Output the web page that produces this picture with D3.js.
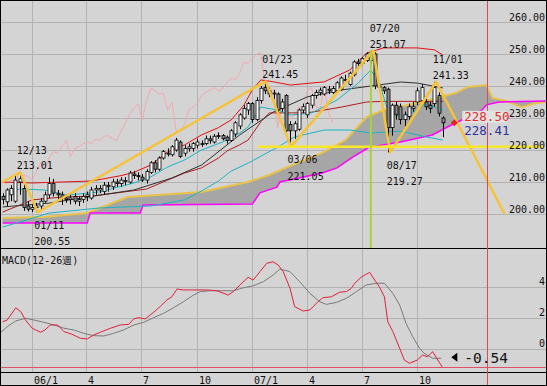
<!DOCTYPE html>
<html>
<head>
<meta charset="utf-8">
<script src="https://cdn.jsdelivr.net/npm/d3@7"></script>
<style>
  body { margin: 0; background: #fff; }
  svg { display: block; }
  text { font-family: "DejaVu Sans Mono", monospace; }
</style>
</head>
<body>
<svg width="547" height="386"></svg>
<script>
// weekly candles, first week starts 2005-11-14
const weekStart = new Date(2005, 10, 14);
const opens  = [205.5,203.8,206,204,210,208,202.5,201.5,202,202.5,204,206,209.5,206.5,206,205,204.5,205.5,204,204.5,205.5,205,207.5,207.5,207,209,208.5,210,209.5,210.5,210,212.5,212,211.5,210.6,213,216,214,217.5,219,218.5,220,222.5,219,220.5,220.5,221.5,222,222,223.5,222.5,224.3,224.5,224,223,225,227.5,230,232.5,234.5,229.5,235.5,239.5,238.5,237.5,237.5,233,237,228,226,226.5,232.5,231,234,237,238,237.5,239,238,238.5,239,242,240.5,243.5,247.5,247,248,248,250,240,239.5,239,227,234,233.5,229.5,230.5,233,235,235.5,235,234,234.5,237,230];
const highs  = [206.5,208,209,212,213.01,210,204,203,203.5,205,207,211.5,211,207.5,207,206,206,206.5,205.5,206.5,207,208.5,209,209,210,210,211,211,211.5,211.5,213.5,213.5,213,212.5,214,216.5,216.8,218,220,220.5,221.5,223.8,223,221.5,222,222.5,223.5,223,224.5,224.5,225,225.5,225,224.5,226.5,229,231.5,234,235,235,236.5,240,241.45,239.5,238.8,238,236,237.5,229,229,233,234.5,235,237.5,238.8,239.5,240,240,240,241.5,243,243.5,244.5,248,248.5,249,250.5,251.07,250.5,241,240,239.5,234.5,235,234.5,232,234.5,235,239.5,240.5,236,235,241.33,238,230.5];
const lows   = [203,202.5,204,203.5,206,201,200.8,200.6,200.55,201.5,203.5,205,205.5,204.5,202.8,203.5,203,203,202.5,203.5,204,204.5,206,206.5,206,207,207.5,208.5,208.5,209,209.5,211,210.5,210,209.5,212.5,213,213.5,217,218,218,219.5,217.5,218,219.5,219.5,220.5,221,221.5,222,222,223.5,223,222,222.5,224,226.5,229.5,231,228.5,229,234.5,237.5,236.5,236,231.5,232,225.5,221.05,223.5,226,231.5,230,233,236,237,237,237.5,237.5,238,238.5,240.5,240,243,246,246.5,247.5,247,239,238,237.5,219.27,224.5,229.5,228,227.5,229.5,232,234,234.5,232.5,231.5,233.5,230.5,224];
const closes = [204.5,207.5,208,210.6,211,202,201.5,202,202.5,204,206,209.5,206.5,206,205,204.5,205,204,204.5,205.5,206,207.5,208,208,209,208.5,210,209.5,210.6,210.5,212.8,212,211.8,210.6,213.3,216,214,217.5,219.5,219,221,223.1,218,220.5,221,222,222.5,222,223.5,223,224.3,224.5,223.5,223,226,228.5,231,233,234.5,229.5,235.5,239.3,238.5,237.5,237.8,232.5,235,226,226,228.2,232.5,233.5,234.5,237,238,238.7,239.5,238.5,239.2,241,242.5,242,244,247.5,247,248.5,250,250.3,240,239.5,238.5,227,234,231,229.5,231,233.5,233.5,238.5,239.5,233.5,233,239.5,231.5,228.5];

// indicator lines (week index, price)
const bandUpWeeks = [0,7,14,21,28,31,35,39,43,47,51,54,57,59,61,64,68,76,82,86,90,98,102,104];
const bandUpVals  = [210,209.7,210,210.3,212,213,215.3,219.4,221.6,224.7,227,229.4,234,238.8,241.9,241.3,240.3,241.3,245,250.3,251.9,251.9,251.3,249.7];
const kijunWeeks = [0,7,14,21,27,34,39,43,47,51,53,56,58,61,63,72,80,86,90,104];
const kijunVals  = [200.6,204.4,205.3,205.6,206.6,207.8,210.6,212.8,214.4,217.5,219.7,221.6,223.1,228.8,231.6,231.6,233.4,235,235.2,235.2];
const maShortWeeks = [0,4,10,15,23,31,35,39,43,47,52,56,58,61,65,68,73,79,84,87,89,91,94,98,100,102,104];
const maShortVals  = [205.3,207.8,207.5,205.9,206.9,209.7,211.6,214.7,216.9,220,222.5,225.3,227.2,233.4,232.5,230.9,231.6,235.6,240.9,245,240.9,232.5,230.3,232.5,234.7,233.4,232.5];
const maMidWeeks = [0,11,23,31,40,47,56,64,72,80,87,94,98,104];
const maMidVals  = [202.2,203.4,205.9,207.5,211.25,215.3,224.7,231.9,236.6,238.75,240,241.25,240.9,239.4];
const maLongWeeks = [0,11,23,35,43,47,51,54,58,65,69,76,82,87,94,100,104];
const maLongVals  = [195.9,200.3,201.9,202.5,204.4,207.2,210.3,213.4,215.9,220.9,224.1,226.25,226.25,225.3,225.9,224.1,223.1];
const spanAWeeks = [0,10,20,29.5,36.5,47,58,63,69.5,75.5,81,86,90,98,107,110,114.3,115.7,119,122.7,126,128.5];
const spanAVals  = [198.75,199.1,200.3,205.3,205.9,206.9,210,212.2,215.9,219.1,223.1,230.3,232.5,234.7,237.8,239.7,240.3,236.25,235.3,233.4,234.7,235];
const spanBWeeks = [0,20,20.7,32.5,33.2,59,60.8,64.8,65.5,75.5,79,82.7,85.5,86.7,94,101.5,106,109.5,113.3,114.3,117.3,128.5];
const spanBVals  = [197.2,197.2,200.3,200.3,202.8,203.1,206.6,208.4,210,212.8,214.4,217.8,220,220.9,222.5,224.7,227.8,230,232.5,234.1,235,235.3];
const laggingShift = 26;

// chart pattern
const pivotDates  = ["2005-11-13","2005-12-13","2006-01-11","2007-01-23","2007-03-06","2007-07-20","2007-08-17","2007-11-01","2008-02-22"];
const pivotPrices = [210,213.01,200.55,241.45,221.05,251.07,219.27,241.33,200];
const pivotLabels = [null,"12/13","01/11","01/23","03/06","07/20","08/17","11/01",null];
const pivotIsHigh = [null,true,false,true,false,true,false,true,null];
const necklineDates = ["2007-01-10","2008-04-25"];
const necklinePrice = 221.05;
const peakMarkDate = "2007-07-16";
const cursorDate = "2008-01-24";
const lastPrice = 228.50;
const otherPrice = 228.41;
const lastPriceDate = "2007-12-01";

// MACD
const macdWeeks = [0,1.1,3.1,4.3,5.4,7,9,10,11.3,13,14.5,16.4,18.4,20,21.5,23.1,25.5,27.8,29.8,31,32.1,33.7,35.7,37.2,38.8,40,41.2,42.7,45,48.2,50.6,53.3,54.5,56.1,58,59.2,60.8,62.4,63.9,65.1,66.3,67.9,69,71,72.6,74.5,75.7,77.7,79.6,81.2,82.4,83.2,84.7,86.7,87.9,89,90.2,91,92.2,93.8,94.9,96.1,98,99.2,100.4,101.6,102.8,104];
const macdVals  = [1.76,1.87,2.66,2.41,1.87,1.34,1.08,1.23,1.55,1.55,1.12,0.95,0.69,0.65,0.9,1.08,1.34,1.55,1.59,1.94,2.02,1.94,2.37,2.73,3.16,3.37,3.87,3.81,3.81,3.81,3.76,3.48,3.7,4.13,4.63,4.45,4.99,5.53,5.63,5.42,4.99,3.92,2.73,2.45,2.52,3.05,3.31,3.37,3.66,3.7,3.92,4.24,4.63,4.95,4.45,4.02,3.37,1.76,1.12,0.05,-0.71,-0.92,-0.71,-0.39,-0.5,-0.17,-0.71,-1.21];
const signalWeeks = [-0.4,1.1,3.1,5.4,7.4,9.8,12.1,14.5,16.8,19.2,21.5,23.9,26.2,28.6,31,33.3,35.7,38,40.4,42.7,45.1,46.7,49,51.4,54.5,56.9,59.2,61.6,63.9,65.5,67.9,70.2,72.6,74.9,76.5,78.9,81.2,83.6,85.9,88.3,90.2,92.2,93.8,95.3,96.9,98.5,99.6,101.6,103.6];
const signalVals  = [1.08,1.44,1.81,1.98,1.87,1.72,1.55,1.34,1.23,1.01,0.86,0.84,1.01,1.23,1.55,1.72,2.02,2.3,2.66,3.05,3.48,3.7,3.76,3.76,3.76,3.95,4.08,4.34,4.77,5.16,4.99,4.34,3.59,3.05,2.88,3.01,3.27,3.7,4.13,4.24,4.24,3.59,2.84,1.66,0.79,0.05,-0.28,-0.6,-0.6];
const macdLast = -0.54;

// axes
const priceTicks = [200,210,220,230,240,250,260];
const macdTicks = [0,2,4];
const timeTicks = ["2006-01-01","2006-04-01","2006-07-01","2006-10-01","2007-01-01","2007-04-01","2007-07-01","2007-10-01"];
const timeLabels = ["06/1","4","7","10","07/1","4","7","10"];

const W = 547, H = 386;
const mainTop = 1, mainBottom = 248, macdTop = 249, macdBottom = 367;
const svg = d3.select("svg");
const parse = d3.timeParse("%Y-%m-%d");
const weekDate = w => new Date(weekStart.getTime() + w * 7 * 864e5);

const x = d3.scaleTime()
  .domain([new Date(2005, 10, 13), new Date(2008, 3, 29)])
  .range([2, 545]);
const y = d3.scaleLinear().domain([200, 260]).range([214, 22]);
const ym = d3.scaleLinear().domain([0, 4]).range([349, 287]);

svg.append("rect").attr("width", W).attr("height", H).attr("fill", "#d4d4d4");

const defs = svg.append("defs");
defs.append("clipPath").attr("id", "clipMain").append("rect")
  .attr("x", 1).attr("y", mainTop).attr("width", W - 2).attr("height", mainBottom - mainTop);
defs.append("clipPath").attr("id", "clipMacd").append("rect")
  .attr("x", 1).attr("y", macdTop).attr("width", W - 2).attr("height", macdBottom - macdTop);

// grid
const grid = svg.append("g").attr("stroke", "#b2b2b2").attr("stroke-width", 1);
priceTicks.forEach(p => grid.append("line")
  .attr("x1", 1).attr("x2", W - 1).attr("y1", Math.round(y(p)) + 0.5).attr("y2", Math.round(y(p)) + 0.5));
macdTicks.forEach(v => grid.append("line")
  .attr("x1", 1).attr("x2", W - 1).attr("y1", Math.round(ym(v)) + 0.5).attr("y2", Math.round(ym(v)) + 0.5));
timeTicks.forEach(t => grid.append("line")
  .attr("x1", Math.round(x(parse(t))) + 0.5).attr("x2", Math.round(x(parse(t))) + 0.5)
  .attr("y1", mainTop).attr("y2", 372));

const main = svg.append("g").attr("clip-path", "url(#clipMain)");

// cloud
const ptsA = spanAWeeks.map((w, i) => [x(weekDate(w)), y(spanAVals[i])]);
const ptsB = spanBWeeks.map((w, i) => [x(weekDate(w)), y(spanBVals[i])]);
main.append("path")
  .attr("d", d3.line()(ptsA.concat(ptsB.slice().reverse())) + "Z")
  .attr("fill", "#a6a6a6");
main.append("path").attr("d", d3.line()(ptsA))
  .attr("fill", "none").attr("stroke", "#e8c24a").attr("stroke-width", 2);
main.append("path").attr("d", d3.line()(ptsB))
  .attr("fill", "none").attr("stroke", "#ff00ff").attr("stroke-width", 1.5);

// lagging span: closes drawn back
main.append("path")
  .attr("d", d3.line()(closes.map((c, i) => [x(weekDate(i - laggingShift)), y(c)])))
  .attr("fill", "none").attr("stroke", "#f2aab2").attr("stroke-width", 1);

function drawLine(weeks, vals, color, width) {
  main.append("path")
    .attr("d", d3.line()(weeks.map((w, i) => [x(weekDate(w)), y(vals[i])])))
    .attr("fill", "none").attr("stroke", color).attr("stroke-width", width);
}
drawLine(maLongWeeks, maLongVals, "#1cb4c4", 1);
drawLine(kijunWeeks, kijunVals, "#b01c1c", 1);
drawLine(maMidWeeks, maMidVals, "#303030", 1);
drawLine(maShortWeeks, maShortVals, "#1cb4c4", 1);
drawLine(bandUpWeeks, bandUpVals, "#e01010", 1);

// candles
const candles = main.append("g");
closes.forEach((c, i) => {
  const cx = Math.round(x(weekDate(i))) + 0.5;
  const o = opens[i];
  candles.append("line")
    .attr("x1", cx).attr("x2", cx)
    .attr("y1", y(highs[i])).attr("y2", y(lows[i]))
    .attr("stroke", "#000");
  const top = y(Math.max(o, c)), bot = y(Math.min(o, c));
  candles.append("rect")
    .attr("x", cx - 1.5).attr("y", top)
    .attr("width", 3).attr("height", Math.max(1, bot - top))
    .attr("fill", c >= o ? "#fff" : "#8a8a8a")
    .attr("stroke", "#000").attr("stroke-width", 0.8);
});

// pattern lines
main.append("path")
  .attr("d", d3.line()(pivotDates.map((d, i) => [x(parse(d)), y(pivotPrices[i])])))
  .attr("fill", "none").attr("stroke", "#f6c236").attr("stroke-width", 2.5)
  .attr("stroke-linejoin", "round");
main.append("line")
  .attr("x1", x(parse(necklineDates[0]))).attr("x2", x(parse(necklineDates[1])))
  .attr("y1", y(necklinePrice)).attr("y2", y(necklinePrice))
  .attr("stroke", "#f8e62a").attr("stroke-width", 2.5);
main.append("line")
  .attr("x1", x(parse(peakMarkDate))).attr("x2", x(parse(peakMarkDate)))
  .attr("y1", y(251.07)).attr("y2", mainBottom)
  .attr("stroke", "#a6d23c").attr("stroke-width", 2);

// pivot labels
const lab = svg.append("g").attr("font-size", 10).attr("fill", "#111");
pivotLabels.forEach((t, i) => {
  if (!t) return;
  const px = x(parse(pivotDates[i])) - 3.5, py = y(pivotPrices[i]);
  const dy1 = pivotIsHigh[i] ? -18.5 : 16.5, dy2 = pivotIsHigh[i] ? -3 : 33;
  lab.append("text").attr("x", px).attr("y", py + dy1).text(t);
  lab.append("text").attr("x", px).attr("y", py + dy2).text(pivotPrices[i].toFixed(2));
});

// MACD panel
const macdG = svg.append("g").attr("clip-path", "url(#clipMacd)");
macdG.append("path")
  .attr("d", d3.line()(signalWeeks.map((w, i) => [x(weekDate(w)), ym(signalVals[i])])))
  .attr("fill", "none").attr("stroke", "#7a7a7a").attr("stroke-width", 1);
macdG.append("path")
  .attr("d", d3.line()(macdWeeks.map((w, i) => [x(weekDate(w)), ym(macdVals[i])])))
  .attr("fill", "none").attr("stroke", "#e0203c").attr("stroke-width", 1);

svg.append("text").attr("x", 2).attr("y", 264).attr("font-size", 10).attr("fill", "#111")
  .attr("font-family", "DejaVu Sans Mono, Noto Sans CJK JP").text("MACD(12-26週)");

// right axis labels
const axisR = svg.append("g").attr("font-size", 10).attr("fill", "#111").attr("text-anchor", "end");
priceTicks.forEach(p => axisR.append("text").attr("x", 545).attr("y", Math.round(y(p)) - 1).text(p.toFixed(2)));
macdTicks.forEach(v => axisR.append("text").attr("x", 545).attr("y", Math.round(ym(v)) - 2).text(v));

// bottom axis
const axisB = svg.append("g").attr("font-size", 10).attr("fill", "#111");
timeTicks.forEach((t, i) => axisB.append("text")
  .attr("x", Math.round(x(parse(t))) + 2).attr("y", 384).text(timeLabels[i]));

// frame lines
svg.append("line").attr("x1", 0).attr("x2", W).attr("y1", 248.5).attr("y2", 248.5).attr("stroke", "#000");
svg.append("line").attr("x1", 0).attr("x2", W).attr("y1", 367.5).attr("y2", 367.5).attr("stroke", "#e05068");
svg.append("line").attr("x1", 0).attr("x2", W).attr("y1", 372.5).attr("y2", 372.5).attr("stroke", "#000");

// cursor line
const cx0 = Math.round(x(parse(cursorDate))) + 0.5;
svg.append("line").attr("x1", cx0).attr("x2", cx0).attr("y1", 0).attr("y2", H)
  .attr("stroke", "#d24c64").attr("stroke-width", 1);

// last price markers
const lpx = x(parse(lastPriceDate)), lpy = y(lastPrice);
svg.append("path")
  .attr("d", `M${lpx - 3.5},${lpy} L${lpx},${lpy - 3.5} L${lpx + 3.5},${lpy} L${lpx},${lpy + 3.5}Z`)
  .attr("fill", "#e02424");
svg.append("rect").attr("x", lpx + 8).attr("y", lpy - 12).attr("width", 44).attr("height", 12)
  .attr("fill", "#e2e2e2");
svg.append("text").attr("x", lpx + 10).attr("y", lpy - 1.5)
  .attr("font-family", "Liberation Sans, Arial, sans-serif").attr("font-size", 12.5)
  .attr("fill", "#e03030").text(lastPrice.toFixed(2));
svg.append("text").attr("x", lpx + 10).attr("y", lpy + 12.5)
  .attr("font-family", "Liberation Sans, Arial, sans-serif").attr("font-size", 12.5)
  .attr("fill", "#3030a0").text(otherPrice.toFixed(2));

const my = ym(macdLast);
const tx = lpx - 3;
svg.append("path").attr("d", `M${tx},${my} L${tx + 6},${my - 4.5} L${tx + 6},${my + 4.5}Z`).attr("fill", "#000");
svg.append("text").attr("x", tx + 13).attr("y", my + 5.5)
  .attr("font-family", "Liberation Sans, Arial, sans-serif").attr("font-size", 14.5)
  .attr("fill", "#111").text(macdLast.toFixed(2));

// outer border
svg.append("rect").attr("x", 0.5).attr("y", 0.5).attr("width", W - 1).attr("height", H - 1)
  .attr("fill", "none").attr("stroke", "#000");
</script>
</body>
</html>
